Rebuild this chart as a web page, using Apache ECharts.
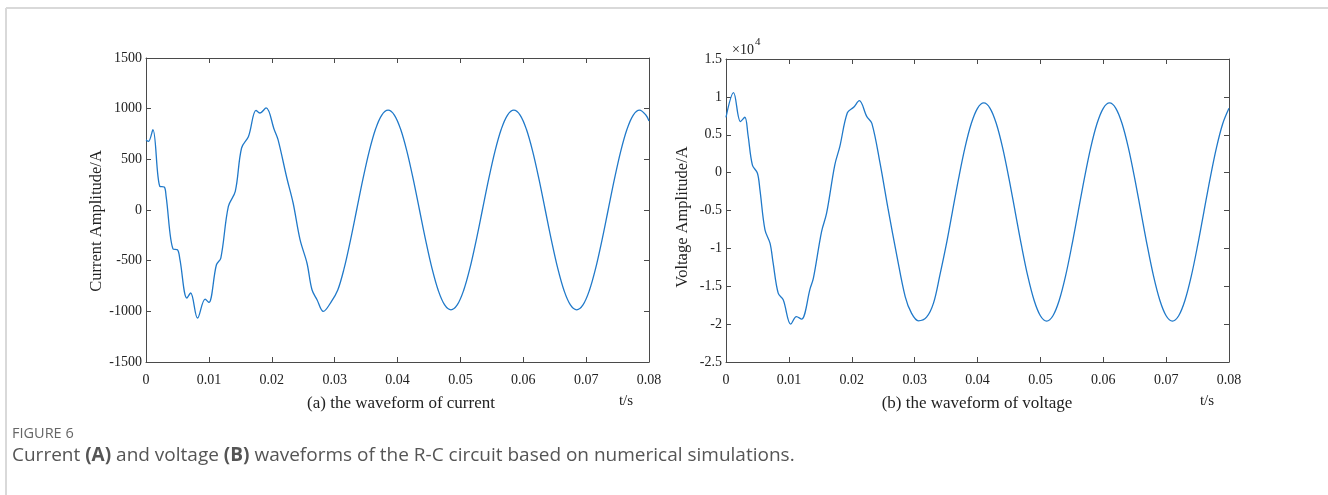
<!DOCTYPE html>
<html><head><meta charset="utf-8">
<script src="https://cdn.jsdelivr.net/npm/echarts@6/dist/echarts.min.js"></script>
<style>html,body{margin:0;padding:0;background:#fff}#c{width:1328px;height:495px}</style>
</head><body><div id="c"></div>
<script>
// ---- Data ----
const xTicks = [0, 0.01, 0.02, 0.03, 0.04, 0.05, 0.06, 0.07, 0.08];
const currentTicks = [-1500, -1000, -500, 0, 500, 1000, 1500];
const voltageTicks = [-25000, -20000, -15000, -10000, -5000, 0, 5000, 10000, 15000];

// (a) current waveform, time in s, current in A
const currentT = [0, 0.0004, 0.0011, 0.0022, 0.0029, 0.0032, 0.0043, 0.0050, 0.0054, 0.0065,
  0.0071, 0.0082, 0.0094, 0.0100, 0.0112, 0.0119, 0.0131, 0.0142, 0.0152, 0.0163,
  0.0175, 0.0181, 0.0191, 0.0204, 0.0210, 0.0224, 0.0234, 0.0245, 0.0256, 0.0264,
  0.0272, 0.0282, 0.0295,
  0.0305, 0.0315, 0.0325, 0.0335, 0.0345, 0.0355, 0.0365, 0.0375, 0.0385, 0.0395,
  0.0405, 0.0415, 0.0425, 0.0435, 0.0445, 0.0455, 0.0465, 0.0475, 0.0485, 0.0495,
  0.0505, 0.0515, 0.0525, 0.0535, 0.0545, 0.0555, 0.0565, 0.0575, 0.0585, 0.0595,
  0.0605, 0.0615, 0.0625, 0.0635, 0.0645, 0.0655, 0.0665, 0.0675, 0.0685, 0.0695,
  0.0705, 0.0715, 0.0725, 0.0735, 0.0745, 0.0755, 0.0765, 0.0775, 0.0785, 0.0795, 0.080];
const currentA = [694, 677, 792, 233, 227, 134, -385, -392, -490, -869,
  -819, -1066, -879, -912, -540, -474, 36, 184, 612, 726,
  983, 957, 1007, 792, 694, 316, 69, -293, -523, -787,
  -885, -1001, -902,
  -790, -579, -304, 0, 304, 579, 797, 937, 985, 937,
  797, 579, 304, 0, -304, -579, -797, -937, -985, -937,
  -797, -579, -304, 0, 304, 579, 797, 937, 985, 937,
  797, 579, 304, 0, -304, -579, -797, -937, -985, -937,
  -797, -579, -304, 0, 304, 579, 797, 937, 985, 937, 878];

// (b) voltage waveform, time in s, voltage in V
const voltageT = [0, 0.0012, 0.0023, 0.0030, 0.0035, 0.0042, 0.0050, 0.0054, 0.0062, 0.0070,
  0.0075, 0.0083, 0.0091, 0.0103, 0.0112, 0.0120, 0.0134, 0.0139, 0.0152, 0.0160,
  0.0173, 0.0181, 0.0193, 0.0203, 0.0212, 0.0224, 0.0232, 0.0245, 0.0258, 0.0272,
  0.0285, 0.0295, 0.0306, 0.0319, 0.0330, 0.0340,
  0.035, 0.036, 0.037, 0.038, 0.039, 0.040, 0.041, 0.042, 0.043, 0.044,
  0.045, 0.046, 0.047, 0.048, 0.049, 0.050, 0.051, 0.052, 0.053, 0.054,
  0.055, 0.056, 0.057, 0.058, 0.059, 0.060, 0.061, 0.062, 0.063, 0.064,
  0.065, 0.066, 0.067, 0.068, 0.069, 0.070, 0.071, 0.072, 0.073, 0.074,
  0.075, 0.076, 0.077, 0.078, 0.079, 0.080];
const voltageV = [7300, 10550, 6730, 7310, 4970, 1000, -80, -2280, -7560, -9310,
  -11950, -15910, -16790, -20000, -19000, -19340, -15250, -13930, -7780, -5360,
  1000, 3430, 7900, 8620, 9500, 7390, 6510, 1240, -4900, -11080,
  -16360, -18550, -19560, -19080, -17230, -13600,
  -9650, -5200, -750, 3270, 6450, 8490, 9200, 8490, 6450, 3270,
  -750, -5200, -9650, -13670, -16850, -18890, -19600, -18890, -16850, -13670,
  -9650, -5200, -750, 3270, 6450, 8490, 9200, 8490, 6450, 3270,
  -750, -5200, -9650, -13670, -16850, -18890, -19600, -18890, -16850, -13670,
  -9650, -5200, -750, 3270, 6450, 8490];

// ---- Chart ----
const serif = '"Liberation Serif", "Times New Roman", serif';
const sans = '"Open Sans", "Noto Sans", sans-serif';
const axisColor = '#4a4a4a';
const lineColor = '#2079c9';

function xAxisDef(grid, pos) {
  return {
    gridIndex: grid, type: 'value', position: pos,
    min: xTicks[0], max: xTicks[xTicks.length - 1], interval: 0.01,
    axisLine: { show: true, onZero: false, lineStyle: { color: axisColor, width: 1 } },
    axisTick: { show: true, inside: true, length: 5, lineStyle: { color: axisColor } },
    axisLabel: pos === 'bottom' ? {
      show: true, fontFamily: serif, fontSize: 14, color: '#222', margin: 11,
      formatter: v => String(+v.toFixed(2))
    } : { show: false },
    splitLine: { show: false }
  };
}
function yAxisDef(grid, pos, ticks, scale) {
  return {
    gridIndex: grid, type: 'value', position: pos,
    min: ticks[0], max: ticks[ticks.length - 1], interval: ticks[1] - ticks[0],
    axisLine: { show: true, onZero: false, lineStyle: { color: axisColor, width: 1 } },
    axisTick: { show: true, inside: true, length: 5, lineStyle: { color: axisColor } },
    axisLabel: pos === 'left' ? {
      show: true, fontFamily: serif, fontSize: 14, color: '#222', margin: 4,
      formatter: v => String(+(v / scale).toFixed(2))
    } : { show: false },
    splitLine: { show: false }
  };
}

const chart = echarts.init(document.getElementById('c'), null, { renderer: 'canvas' });

chart.setOption({
  animation: false,
  backgroundColor: '#fff',
  grid: [
    { left: 146, right: 679, top: 58, bottom: 133 },
    { left: 726, right: 99, top: 59, bottom: 133 }
  ],
  xAxis: [xAxisDef(0, 'bottom'), xAxisDef(0, 'top'), xAxisDef(1, 'bottom'), xAxisDef(1, 'top')],
  yAxis: [yAxisDef(0, 'left', currentTicks, 1), yAxisDef(0, 'right', currentTicks, 1),
          yAxisDef(1, 'left', voltageTicks, 10000), yAxisDef(1, 'right', voltageTicks, 10000)],
  series: [
    {
      type: 'line', xAxisIndex: 0, yAxisIndex: 0, showSymbol: false, symbol: 'none',
      smooth: 0.35, lineStyle: { color: lineColor, width: 1.3 },
      data: currentT.map((t, i) => [t, currentA[i]])
    },
    {
      type: 'line', xAxisIndex: 2, yAxisIndex: 2, showSymbol: false, symbol: 'none',
      smooth: 0.35, lineStyle: { color: lineColor, width: 1.3 },
      data: voltageT.map((t, i) => [t, voltageV[i]])
    }
  ],
  graphic: [
    { type: 'line', shape: { x1: 6, y1: 8, x2: 1328, y2: 8 }, style: { stroke: '#d9d9d9', lineWidth: 2 } },
    { type: 'line', shape: { x1: 6, y1: 8, x2: 6, y2: 495 }, style: { stroke: '#d9d9d9', lineWidth: 2 } },
    { type: 'text', x: 97, y: 221, rotation: Math.PI / 2,
      style: { text: 'Current Amplitude/A', fontFamily: serif, fontSize: 16.5, fill: '#222', align: 'center', verticalAlign: 'middle' } },
    { type: 'text', x: 683, y: 217, rotation: Math.PI / 2,
      style: { text: 'Voltage Amplitude/A', fontFamily: serif, fontSize: 16.5, fill: '#222', align: 'center', verticalAlign: 'middle' } },
    { type: 'text', x: 401, y: 404,
      style: { text: '(a) the waveform of current', fontFamily: serif, fontSize: 17, fill: '#222', align: 'center', verticalAlign: 'middle' } },
    { type: 'text', x: 977, y: 404,
      style: { text: '(b) the waveform of voltage', fontFamily: serif, fontSize: 17, fill: '#222', align: 'center', verticalAlign: 'middle' } },
    { type: 'text', x: 626, y: 401,
      style: { text: 't/s', fontFamily: serif, fontSize: 15, fill: '#222', align: 'center', verticalAlign: 'middle' } },
    { type: 'text', x: 1207, y: 401,
      style: { text: 't/s', fontFamily: serif, fontSize: 15, fill: '#222', align: 'center', verticalAlign: 'middle' } },
    { type: 'text', x: 732, y: 50,
      style: { text: '×10', fontFamily: serif, fontSize: 14, fill: '#222', align: 'left', verticalAlign: 'middle' } },
    { type: 'text', x: 755, y: 42,
      style: { text: '4', fontFamily: serif, fontSize: 11, fill: '#222', align: 'left', verticalAlign: 'middle' } },
    { type: 'text', x: 12, y: 434,
      style: { text: 'FIGURE 6', fontFamily: sans, fontSize: 14.5, fill: '#666', align: 'left', verticalAlign: 'middle' } },
    { type: 'text', x: 12, y: 456,
      style: {
        text: 'Current {b|(A)} and voltage {b|(B)} waveforms of the R-C circuit based on numerical simulations.',
        fontFamily: sans, fontSize: 19, fill: '#555', align: 'left', verticalAlign: 'middle',
        rich: { b: { fontFamily: sans, fontSize: 19, fontWeight: 'bold', fill: '#555', color: '#555' } }
      } }
  ]
});
</script></body></html>
